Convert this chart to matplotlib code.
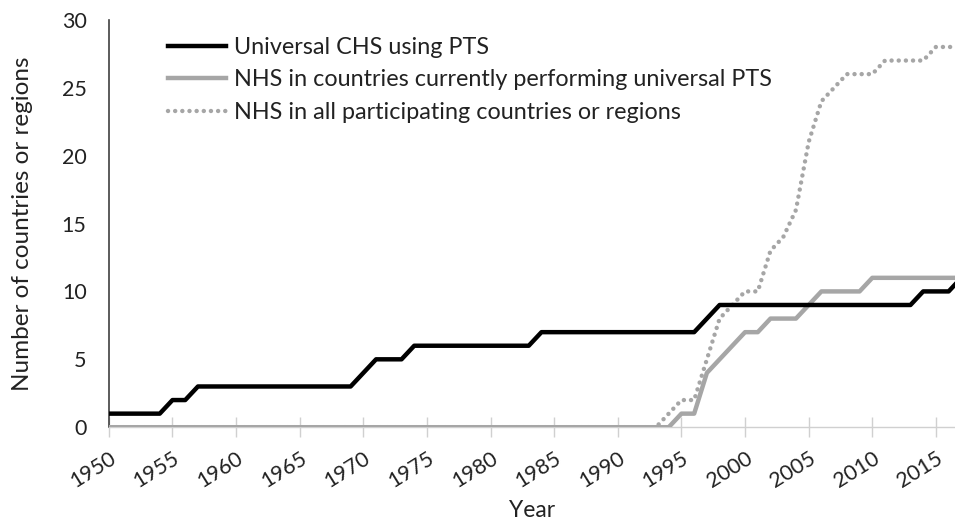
import numpy as np
import matplotlib.pyplot as plt

plt.rcParams['font.family'] = ['Lato', 'DejaVu Sans']

years = list(range(1950, 2018))

# Universal CHS using PTS
chs = [1, 1, 1, 1, 1, 2, 2, 3, 3, 3,      # 1950-1959
       3, 3, 3, 3, 3, 3, 3, 3, 3, 3,      # 1960-1969
       4, 5, 5, 5, 6, 6, 6, 6, 6, 6,      # 1970-1979
       6, 6, 6, 6, 7, 7, 7, 7, 7, 7,      # 1980-1989
       7, 7, 7, 7, 7, 7, 7, 8, 9, 9,      # 1990-1999
       9, 9, 9, 9, 9, 9, 9, 9, 9, 9,      # 2000-2009
       9, 9, 9, 9, 10, 10, 10, 11]        # 2010-2017

# NHS in countries currently performing universal PTS
nhs_pts = [0] * 45 + [1, 1, 4, 5, 6,      # 1995-1999
           7, 7, 8, 8, 8, 9, 10, 10, 10, 10,   # 2000-2009
           11, 11, 11, 11, 11, 11, 11, 11]     # 2010-2017

# NHS in all participating countries or regions
nhs_all = [0] * 44 + [1, 2, 2, 5, 8, 9,   # 1994-1999
           10, 10, 13, 14, 16, 21, 24, 25, 26, 26,   # 2000-2009
           26, 27, 27, 27, 27, 28, 28, 28]           # 2010-2017

labels = ['Universal CHS using PTS',
          'NHS in countries currently performing universal PTS',
          'NHS in all participating countries or regions']

fig = plt.figure(figsize=(9.55, 5.21), dpi=100)
ax = fig.add_axes([0.114, 0.18, 0.886, 0.782])

ax.plot(years, chs, color='black', lw=3.2, label=labels[0], zorder=4)
ax.plot(years, nhs_pts, color='#a6a6a6', lw=3.2, label=labels[1], zorder=3)
ax.plot(years, nhs_all, color='#a6a6a6', lw=3.2, ls=(0, (0.01, 1.6)),
        dash_capstyle='round', label=labels[2], zorder=2)

ax.set_xlim(1950, 2016.5)
ax.set_ylim(0, 30)
ax.set_yticks(range(0, 31, 5))
ax.set_xticks(range(1950, 2016, 5))

for s in ['top', 'right']:
    ax.spines[s].set_visible(False)
ax.spines['left'].set_color('#404040')
ax.spines['left'].set_linewidth(1.2)
ax.spines['bottom'].set_color('#d0d0d0')
ax.spines['bottom'].set_linewidth(1)

ax.tick_params(axis='y', length=0, pad=16, labelsize=15.5, labelcolor='#222222')
ax.tick_params(axis='x', direction='inout', length=14, width=1, color='#d0d0d0',
               labelsize=15.5, labelcolor='#222222', pad=8)
for lab in ax.get_xticklabels():
    lab.set_rotation(32)
    lab.set_ha('right')
    lab.set_rotation_mode('anchor')

ax.set_xlabel('Year', fontsize=16.5, color='#222222', labelpad=6)
ax.set_ylabel('Number of countries or regions', fontsize=17.5, color='#222222', labelpad=21)

leg = ax.legend(loc='upper left', bbox_to_anchor=(0.045, 1.01), frameon=False,
                fontsize=16.8, handlelength=2.5, handletextpad=0.35,
                labelspacing=0.5, labelcolor='#222222')

fig.savefig('out.png', dpi=100)
